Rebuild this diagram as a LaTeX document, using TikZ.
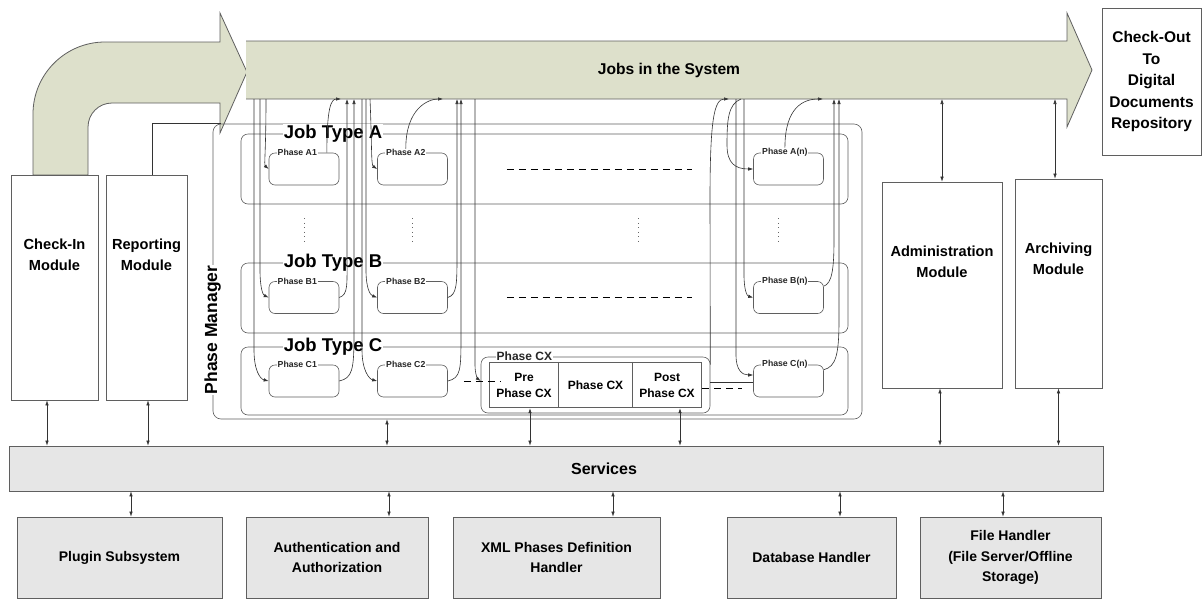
\documentclass[tikz,border=0pt]{standalone}
\usepackage{fontspec}
\setmainfont{Liberation Sans}
\usetikzlibrary{calc,arrows.meta}

\definecolor{jobgreen}{RGB}{221,224,203}
\definecolor{svcgray}{RGB}{230,230,230}
\definecolor{edgegray}{RGB}{95,95,95}
\def\bfsize#1#2{\bfseries\fontsize{#1}{#2}\selectfont}

\tikzset{
  modbox/.style={draw=edgegray, line width=0.7pt, inner sep=0pt},
  svcbox/.style={modbox, fill=svcgray, align=center, font=\bfsize{14}{20.5}},
  modtext/.style={align=center, inner sep=0pt, font=\bfsize{14.6}{21}},
  jobtype/.style={draw=edgegray, rounded corners=7pt, line width=0.6pt, inner sep=0pt},
  jtlabel/.style={fill=white, inner sep=1pt, font=\bfsize{18.5}{20}},
  phase/.style={draw=edgegray, rounded corners=6pt, line width=0.6pt, minimum width=70pt, minimum height=32pt, inner sep=0pt},
  plabel/.style={fill=white, inner sep=0.8pt, font=\bfsize{8.7}{10}, text=black!85},
  cxcell/.style={inner sep=0pt, minimum height=46pt, align=center, font=\bfsize{12}{16}},
  link/.style={line width=0.6pt, black!80, -{Latex[length=5pt,width=3.5pt]}},
  duplex/.style={line width=0.6pt, black!80, {Latex[length=5pt,width=3.5pt]}-{Latex[length=5pt,width=3.5pt]}},
  wire/.style={line width=0.6pt, black!80},
  gapdash/.style={line width=0.7pt, dash pattern=on 7pt off 5pt},
  ellipsis/.style={line width=0.7pt, black!60, dash pattern=on 1pt off 3.5pt},
}

\begin{document}
\begin{tikzpicture}[x=1pt,y=-1pt]
		%%%%% START %%%%%
		\useasboundingbox (0,0) rectangle (1203,598);
		\clip (0,0) rectangle (1203,598);
		\fill[white] (0,0) rectangle (1203,598);
		
		% check-in arrow and jobs bar
		\draw[edgegray, line width=0.8pt, fill=jobgreen] (33,175) [rounded corners=72pt] -- (33,42) [sharp corners] -- (220,42) -- (220,13) -- (247,72) -- (220,133) -- (220,103) [rounded corners=24pt] -- (88,103) [sharp corners] -- (88,175) -- cycle;
		
		\fill[jobgreen] (246,41) -- (1067,41) -- (1067,13) -- (1092,70) -- (1067,127) -- (1067,99) -- (246,99) -- cycle;
		\draw[edgegray, line width=0.8pt] (246,41) -- (1067,41) -- (1067,13) -- (1092,70) -- (1067,127) -- (1067,99) -- (246,99);
		\node[font=\bfsize{15.6}{18}] (jobs) at (669,70) {Jobs in the System};
		
		\foreach \n/\x in {inC1/254, inB1/260, inA1/266, outA1/341, outB1/347, outC1/354,
		                   inC2/362, inB2/366, inA2/370, outA2/443, outB2/457, outC2/461, inPre/475,
		                   outCX/729, inCn/736, inAn/741, inBn/744, outAn/823, outBn/834, outCn/839}
		  \coordinate (\n) at (\x,99);
		\coordinate (barbot) at (668,99);
		
		% modules
		\node[modbox, minimum width=87pt, minimum height=225pt] (checkin) at (54.5,287.5) {};
		\node[modtext] (checkin-t) at ([yshift=33pt]checkin.center) {Check-In\\Module};
		\node[modbox, minimum width=81pt, minimum height=225pt] (reporting) at (146.5,287.5) {};
		\node[modtext] (reporting-t) at ([yshift=33pt]reporting.center) {Reporting\\Module};
		\node[modbox, minimum width=120pt, minimum height=206pt] (admin) at (942,285) {};
		\node[modtext] (admin-t) at ([yshift=23pt]admin.center) {Administration\\Module};
		\node[modbox, minimum width=87pt, minimum height=209pt] (archiving) at (1058.5,283.5) {};
		\node[modtext] (archiving-t) at ([yshift=25pt]archiving.center) {Archiving\\Module};
		\node[modbox, minimum width=99pt, minimum height=147pt, align=center, font=\bfsize{15.5}{21.5}] (checkout) at (1151.5,81.5) {Check-Out\\To\\Digital\\Documents\\Repository};
		
		% phase manager
		\node[jobtype, rounded corners=8pt, minimum width=649pt, minimum height=295pt] (pm) at (537.5,271.5) {};
		\node[jobtype, minimum width=607pt, minimum height=70pt] (ja) at (544.5,169) {};
		\node[jobtype, minimum width=607pt, minimum height=70pt] (jb) at (544.5,298) {};
		\node[jobtype, minimum width=607pt, minimum height=68pt] (jc) at (544.5,381) {};
		\node[fill=white, inner sep=1pt, rotate=90, anchor=west, font=\bfsize{17.5}{19}] (pm-t) at ([yshift=24pt]pm.south west) {Phase Manager};
		\node[jtlabel, anchor=west] (ja-t) at ([xshift=42pt]ja.north west) {Job Type A};
		\node[jtlabel, anchor=west] (jb-t) at ([xshift=42pt]jb.north west) {Job Type B};
		\node[jtlabel, anchor=west] (jc-t) at ([xshift=42pt]jc.north west) {Job Type C};
		
		\node[phase] (a1) at (304,169) {};
		\node[phase] (a2) at (412.5,169) {};
		\node[phase] (an) at (788.5,169) {};
		\node[phase] (b1) at (304,297.5) {};
		\node[phase] (b2) at (412.5,297.5) {};
		\node[phase] (bn) at (788.5,297.5) {};
		\node[phase] (c1) at (304,381) {};
		\node[phase] (c2) at (412.5,381) {};
		\node[phase] (cn) at (788.5,381) {};
		\node[plabel, anchor=west] (la1) at ([xshift=8pt]a1.north west) {Phase A1};
		\node[plabel, anchor=west] (la2) at ([xshift=8pt]a2.north west) {Phase A2};
		\node[plabel, anchor=west] (lan) at ([xshift=8pt]an.north west) {Phase A(n)};
		\node[plabel, anchor=west] (lb1) at ([xshift=8pt]b1.north west) {Phase B1};
		\node[plabel, anchor=west] (lb2) at ([xshift=8pt]b2.north west) {Phase B2};
		\node[plabel, anchor=west] (lbn) at ([xshift=8pt]bn.north west) {Phase B(n)};
		\node[plabel, anchor=west] (lc1) at ([xshift=8pt]c1.north west) {Phase C1};
		\node[plabel, anchor=west] (lc2) at ([xshift=8pt]c2.north west) {Phase C2};
		\node[plabel, anchor=west] (lcn) at ([xshift=8pt]cn.north west) {Phase C(n)};
		
		% phase CX
		\node[jobtype, minimum width=229pt, minimum height=56pt] (cx) at (595.5,385) {};
		\node[plabel, font=\bfsize{12}{14}, anchor=west] (lcx) at ([xshift=15pt]cx.north west) {Phase CX};
		\node[cxcell, minimum width=70pt] (pre) at (524,385) {Pre\\Phase CX};
		\node[cxcell, minimum width=73pt] (mid) at (595.5,385) {Phase CX};
		\node[cxcell, minimum width=70pt] (post) at (667,385) {Post\\Phase CX};
		\draw[edgegray, line width=0.5pt, double=white, double distance=1.3pt] (pre.north west) rectangle (post.south east);
		\draw[edgegray, line width=1.1pt] (mid.north west) -- (mid.south west) (mid.north east) -- (mid.south east);
		
		% services and handlers
		\node[svcbox, minimum width=1094pt, minimum height=45pt] (services) at (556,468.5) {};
		\node[font=\bfsize{16}{18}] (services-t) at ([xshift=48pt]services.center) {Services};
		\node[svcbox, minimum width=205pt, minimum height=81pt] (plugin) at (119.5,557.5) {Plugin Subsystem};
		\node[svcbox, minimum width=182pt, minimum height=81pt] (auth) at (337,557.5) {Authentication and\\Authorization};
		\node[svcbox, minimum width=207pt, minimum height=81pt] (xmlh) at (556.5,557.5) {XML Phases Definition\\Handler};
		\node[svcbox, minimum width=169pt, minimum height=81pt] (dbh) at (811.5,557.5) {Database Handler};
		\node[svcbox, minimum width=181pt, minimum height=81pt] (fileh) at (1010.5,557.5) {File Handler\\(File Server/Offline\\Storage)};
		
		\draw[duplex] ([xshift=11.5pt]plugin.north) -- ([xshift=11.5pt]plugin.north |- services.south);
		\draw[duplex] ([xshift=52pt]auth.north) -- ([xshift=52pt]auth.north |- services.south);
		\draw[duplex] ([xshift=56.5pt]xmlh.north) -- ([xshift=56.5pt]xmlh.north |- services.south);
		\draw[duplex] ([xshift=28.5pt]dbh.north) -- ([xshift=28.5pt]dbh.north |- services.south);
		\draw[duplex] ([xshift=-7.5pt]fileh.north) -- ([xshift=-7.5pt]fileh.north |- services.south);
		
		\draw[duplex] ([xshift=-7.5pt]checkin.south) -- ([xshift=-7.5pt]checkin.south |- services.north);
		\draw[duplex] ([xshift=1.5pt]reporting.south) -- ([xshift=1.5pt]reporting.south |- services.north);
		\draw[duplex] ([xshift=-150.5pt]pm.south) -- ([xshift=-150.5pt]pm.south |- services.north);
		\draw[duplex] ([xshift=6pt]pre.south) -- ([xshift=6pt]pre.south |- services.north);
		\draw[duplex] ([xshift=13pt]post.south) -- ([xshift=13pt]post.south |- services.north);
		\draw[duplex] ([xshift=-2pt]admin.south) -- ([xshift=-2pt]admin.south |- services.north);
		\draw[duplex] (archiving.south) -- (archiving.south |- services.north);
		\draw[duplex] (admin.north) -- (admin.north |- barbot);
		\draw[duplex] ([xshift=-3.5pt]archiving.north) -- ([xshift=-3.5pt]archiving.north |- barbot);
		
		\draw[wire] ([xshift=5.5pt]reporting.north) |- ([xshift=8pt]pm.north west);
		
		% phase connectors, column 1
		\draw[link] (inA1) .. controls (266,150) and (264,165) .. (a1.west);
		\draw[link] (inB1) -- (260,270) .. controls (260,288) and (263,295) .. (b1.west);
		\draw[link] (inC1) -- (254,350) .. controls (254,370) and (260,379) .. (c1.west);
		\draw[link] ([xshift=9pt]la1.east) .. controls +(0,-45) and +(-10,0) .. (outA1);
		\draw[link] (b1.east) .. controls +(9,-3) and +(0,30) .. (347,255) -- (outB1);
		\draw[link] (c1.east) .. controls +(13,-3) and +(0,35) .. (354,335) -- (outC1);
		
		% column 2
		\draw[link] (inA2) .. controls (372,145) and (371,165) .. (a2.west);
		\draw[link] (inB2) -- (366,270) .. controls (366,288) and (370,295) .. (b2.west);
		\draw[link] (inC2) -- (362,350) .. controls (362,370) and (369,379) .. (c2.west);
		\draw[link] (la2.north) .. controls +(0,-40) and +(-15,0) .. (outA2);
		\draw[link] (b2.east) .. controls +(9,-3) and +(0,30) .. (457,255) -- (outB2);
		\draw[link] (c2.east) .. controls +(13,-3) and +(0,35) .. (461,335) -- (outC2);
		\draw[link] (inPre) -- (475,365) .. controls (475,375) and (478,379) .. ([yshift=4pt]cx.west);
		
		% column n
		\draw[link] ([yshift=-8pt]cx.north east) -- (710,200) .. controls (710,120) and (714,99) .. (outCX);
		\draw[link] (inAn) .. controls (728,104) and (727,120) .. (727,145) .. controls (727,163) and (735,169) .. (an.west);
		\draw[link] (inBn) -- (744,275) .. controls (744,290) and (747,296) .. (bn.west);
		\draw[link] (inCn) -- (736,355) .. controls (736,370) and (742,375) .. ([yshift=6pt]cn.west);
		\draw[link] (lan.north) .. controls +(0,-40) and +(-20,0) .. (outAn);
		\draw[link] ([yshift=-5pt]bn.north east) .. controls +(8,-3) and +(0,30) .. (834,240) -- (outBn);
		\draw[link] ([yshift=-5pt]cn.north east) .. controls +(12,-3) and +(0,35) .. (839,320) -- (outCn);
		
		% gaps between phases
		\draw[gapdash] ([xshift=59pt]a2.east) -- ([xshift=-61pt]an.west);
		\draw[gapdash] ([xshift=59pt]b2.east) -- ([xshift=-61pt]bn.west);
		\draw[gapdash] ([xshift=16pt]c2.east) -- +(37,0);
		\draw[gapdash] ([yshift=-3pt]post.east) -- +(40,0);
		\draw[wire] ([yshift=3pt]cx.east) -- ([yshift=3pt]cx.east -| cn.west);
		
		\draw[ellipsis] ([yshift=-33pt]a1.south) -- +(0,27);
		\draw[ellipsis] ([yshift=-33pt]a2.south) -- +(0,27);
		\draw[ellipsis] ($(a2.south)!0.6!(an.south)+(0,33)$) -- +(0,27);
		\draw[ellipsis] ([xshift=-10pt,yshift=-33pt]an.south) -- +(0,27);
		%%%%% END %%%%%
\end{tikzpicture}
\end{document}
